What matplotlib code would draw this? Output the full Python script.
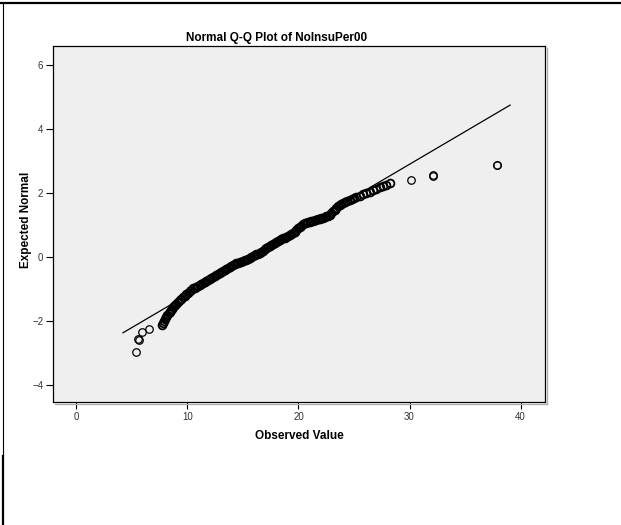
import matplotlib
matplotlib.use("Agg")
import matplotlib.pyplot as plt
from matplotlib.lines import Line2D

plt.rcParams['font.family'] = ['Liberation Sans', 'DejaVu Sans']

# observed values (sorted) and their expected normal scores
observed = [
    5.4, 5.55, 5.6, 5.9, 6.5,
    7.7, 7.8, 7.9, 8.0, 8.1, 8.2, 8.3, 8.4, 8.5, 8.6, 8.7, 8.8, 8.9, 9.0,
    9.15, 9.3, 9.45, 9.6, 9.75, 9.9, 10.05, 10.2, 10.35, 10.5, 10.65, 10.8,
    10.95, 11.1, 11.25, 11.4, 11.55, 11.7, 11.85, 12.0, 12.15, 12.3, 12.45,
    12.6, 12.75, 12.9, 13.05, 13.2, 13.35, 13.5, 13.65, 13.8, 13.95, 14.1,
    14.25, 14.4, 14.55, 14.7, 14.85, 15.0, 15.15, 15.3, 15.45, 15.6, 15.75,
    15.9, 16.05, 16.2, 16.35, 16.5, 16.65, 16.8, 16.95, 17.1, 17.25, 17.4,
    17.55, 17.7, 17.85, 18.0, 18.15, 18.3, 18.45, 18.6, 18.75, 18.9, 19.05,
    19.2, 19.35, 19.5, 19.65, 19.8, 19.95, 20.1, 20.25, 20.4, 20.55, 20.7,
    20.85, 21.0, 21.15, 21.3, 21.45, 21.6, 21.75, 21.9, 22.05, 22.2, 22.35,
    22.5, 22.65, 22.8, 22.95, 23.1, 23.25, 23.4, 23.55, 23.7, 23.85, 24.0,
    24.2, 24.4, 24.6, 24.8, 25.0, 25.2, 25.5, 25.8, 26.1, 26.4, 26.7, 27.0,
    27.3, 27.6, 27.9, 28.2,
    30.1, 32.1, 32.15, 37.85, 37.9,
]
expected = [
    -2.96, -2.55, -2.58, -2.34, -2.25,
    -2.13, -2.05, -1.98, -1.92, -1.86, -1.80, -1.75, -1.70, -1.65, -1.61,
    -1.57, -1.53, -1.49, -1.45,
    -1.40, -1.35, -1.30, -1.25, -1.21, -1.16, -1.12, -1.07, -1.02, -0.98,
    -0.95, -0.92,
    -0.89, -0.86, -0.83, -0.80, -0.77, -0.75, -0.72, -0.69, -0.66, -0.63,
    -0.60,
    -0.57, -0.54, -0.51, -0.47, -0.43, -0.40, -0.37, -0.34, -0.31, -0.28,
    -0.25,
    -0.22, -0.20, -0.18, -0.16, -0.14, -0.12, -0.10, -0.08, -0.05, -0.02,
    0.01,
    0.04, 0.06, 0.08, 0.11, 0.13, 0.17, 0.20, 0.24, 0.27, 0.31, 0.34,
    0.38, 0.41, 0.45, 0.48, 0.50, 0.53, 0.55, 0.58, 0.60, 0.63, 0.66,
    0.68, 0.71, 0.74, 0.79, 0.84, 0.89, 0.94, 0.98, 1.02, 1.05, 1.07,
    1.08, 1.10, 1.11, 1.13, 1.14, 1.16, 1.18, 1.19, 1.21, 1.23, 1.25,
    1.27, 1.29, 1.32, 1.37, 1.42, 1.48, 1.53, 1.58, 1.62, 1.65, 1.68,
    1.72, 1.75, 1.79, 1.82, 1.84, 1.87, 1.91, 1.96, 2.00, 2.04, 2.09, 2.13,
    2.17, 2.21, 2.26, 2.30,
    2.41, 2.54, 2.55, 2.86, 2.87,
]

# reference line of the fitted normal
mean_val = 15.8
sd_val = 4.91
line_x = [4.2, 39.06]

x_ticks = [0, 10, 20, 30, 40]
y_ticks = [-4, -2, 0, 2, 4, 6]

W, H = 621, 525
fig = plt.figure(figsize=(W / 100, H / 100), dpi=100)
fig.patch.set_facecolor('white')

ax = fig.add_axes([53 / W, 1 - 402 / H, (545 - 53) / W, (402 - 46) / H])
ax.set_facecolor('#efefef')

ax.plot(line_x, [(v - mean_val) / sd_val for v in line_x],
        color='black', lw=0.9, zorder=2)

# crowded middle of the distribution vs. the sparse tails
dense = [(o, e) for o, e in zip(observed, expected) if 7 < o < 29]
tails = [(o, e) for o, e in zip(observed, expected) if not 7 < o < 29]
ax.plot([p[0] for p in dense], [p[1] for p in dense], ls='none', marker='o',
        ms=5.6, mfc='none', mec='black', mew=1.3, zorder=3)
ax.plot([p[0] for p in tails], [p[1] for p in tails], ls='none', marker='o',
        ms=5.4, mfc='none', mec='black', mew=0.9, zorder=3)

ax.set_xlim(-2.1, 42.2)
ax.set_ylim(-4.52, 6.58)
ax.set_xticks(x_ticks)
ax.set_yticks(y_ticks)
ax.tick_params(direction='out', length=5, width=0.8, labelsize=7,
               labelcolor='#333333', pad=2)
for s in ax.spines.values():
    s.set_linewidth(0.9)

ax.set_xlabel('Observed Value', fontsize=8.5, fontweight='bold', labelpad=6)
ax.set_ylabel('Expected Normal', fontsize=8.5, fontweight='bold')
ax.yaxis.set_label_coords((32 - 53) / (545 - 53), (402 - 220) / (402 - 46))

fig.text(277 / W, 1 - 38 / H, 'Normal Q-Q Plot of NoInsuPer00',
         ha='center', va='center', fontsize=8.5, fontweight='bold')

# light shadow along the right and bottom edges of the plot box
fig.add_artist(Line2D([547 / W, 547 / W], [1 - 48 / H, 1 - 404 / H],
                      color='#b0b0b0', lw=1.0, transform=fig.transFigure))
fig.add_artist(Line2D([55 / W, 547 / W], [1 - 404 / H, 1 - 404 / H],
                      color='#b0b0b0', lw=1.0, transform=fig.transFigure))

# outer frame (top and left edges)
fig.add_artist(Line2D([0, 1], [1 - 2.5 / H, 1 - 2.5 / H], color='black',
                      lw=1.6, transform=fig.transFigure))
fig.add_artist(Line2D([2.5 / W, 2.5 / W], [1 - 2.5 / H, 1 - 456 / H],
                      color='black', lw=0.8, transform=fig.transFigure))
fig.add_artist(Line2D([3 / W, 3 / W], [1 - 456 / H, 0], color='black',
                      lw=1.6, transform=fig.transFigure))

fig.savefig('out.png', dpi=100)
